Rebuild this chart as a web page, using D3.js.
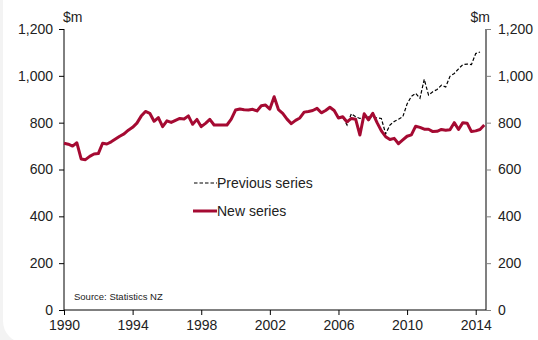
<!DOCTYPE html>
<html>
<head>
<meta charset="utf-8">
<script src="https://d3js.org/d3.v7.min.js"></script>
<style>
  body { margin: 0; background: #f3f3f3; }
  text { font-family: "Liberation Sans", Arial, sans-serif; }
</style>
</head>
<body>
<div id="chart"></div>
<script>

// quarterly data, first quarter 1990
var startYear = 1990;
var newSeries = [
  712, 708, 700, 714, 645, 642, 656, 666,
  668, 712, 709, 718, 730, 742, 752, 768,
  780, 798, 828, 848, 840, 806, 822, 783,
  808, 801, 810, 818, 816, 829, 793, 814,
  783, 797, 814, 790, 790, 790, 790, 815,
  854, 858, 855, 854, 857, 850, 872, 875,
  858, 911, 856, 840, 815, 796, 810, 820,
  845, 848, 852, 861, 842, 852, 866, 852,
  820, 825, 803, 818, 815, 747, 838, 812,
  840, 800, 765, 740, 728, 733, 710, 726,
  742, 748, 785, 780, 772, 772, 762, 763,
  771, 768, 770, 800, 771, 800, 798, 762,
  765, 771, 790
];

// previous series only shown where it splits off (from 2006 Q1)
var prevStart = 2006;
var prevSeries = [
  820, 825, 790, 838, 825, 818, 822, 825,
  825, 820, 818, 752, 790, 805, 815, 825,
  880, 912, 925, 904, 985, 918, 932, 942,
  960, 952, 998, 1010, 1030, 1048, 1050, 1048,
  1095, 1102
];

var yTicks = [0, 200, 400, 600, 800, 1000, 1200];
var xTicks = [1990, 1994, 1998, 2002, 2006, 2010, 2014];

var width = 538;
var height = 340;
var margin = {top: 29, right: 52, bottom: 30, left: 64};
var fontSize = "14px";

var svg = d3.select("#chart")
    .append("svg")
    .attr("width", width)
    .attr("height", height);

// white panel with rounded corner
svg.append("rect")
    .attr("x", 3)
    .attr("y", -30)
    .attr("width", 600)
    .attr("height", 373)
    .attr("rx", 22)
    .attr("fill", "#ffffff");

var x = d3.scaleLinear()
    .domain([1990, 2014.6])
    .range([margin.left, width - margin.right]);

var y = d3.scaleLinear()
    .domain([0, 1200])
    .range([height - margin.bottom, margin.top]);

var line = d3.line()
    .x(function(d) { return x(d.t); })
    .y(function(d) { return y(d.v); });

var newData = newSeries.map(function(v, i) { return {t: startYear + i / 4, v: v}; });
var prevData = prevSeries.map(function(v, i) { return {t: prevStart + i / 4, v: v}; });

// left axis
var leftAxis = svg.append("g")
    .attr("transform", "translate(" + margin.left + ",0)")
    .call(d3.axisLeft(y).tickValues(yTicks).tickSize(5).tickPadding(6).tickFormat(d3.format(",")));
leftAxis.selectAll("text").attr("font-size", fontSize).attr("fill", "#222");
leftAxis.selectAll("line, path").attr("stroke", "#000");
leftAxis.select(".domain").attr("d", "M0," + y(0) + "V" + y(1200));

// right axis (grey)
var rightAxis = svg.append("g")
    .attr("transform", "translate(" + (width - margin.right) + ",0)")
    .call(d3.axisRight(y).tickValues(yTicks).tickSize(5).tickPadding(7).tickFormat(d3.format(",")));
rightAxis.selectAll("text").attr("font-size", fontSize).attr("fill", "#222");
rightAxis.selectAll("line").attr("stroke", "#808080");
rightAxis.select(".domain")
    .attr("d", "M0," + y(0) + "V" + y(1200))
    .attr("stroke", "#808080")
    .attr("stroke-width", 2);

// bottom axis
var bottomAxis = svg.append("g")
    .attr("transform", "translate(0," + y(0) + ")")
    .call(d3.axisBottom(x).tickValues(xTicks).tickSize(5).tickPadding(5).tickFormat(d3.format("d")));
bottomAxis.selectAll("text").attr("font-size", fontSize).attr("fill", "#222");
bottomAxis.selectAll("line, path").attr("stroke", "#000");
bottomAxis.select(".domain").attr("d", "M" + x(1990) + ",0H" + x(2014.6));

// unit labels
svg.append("text")
    .attr("x", margin.left - 1)
    .attr("y", 22)
    .attr("font-size", fontSize)
    .attr("fill", "#222")
    .text("$m");
svg.append("text")
    .attr("x", width - margin.right + 4)
    .attr("y", 22)
    .attr("text-anchor", "end")
    .attr("font-size", fontSize)
    .attr("fill", "#222")
    .text("$m");

// lines
svg.append("path")
    .datum(prevData)
    .attr("d", line)
    .attr("fill", "none")
    .attr("stroke", "#000")
    .attr("stroke-width", 1.2)
    .attr("stroke-dasharray", "3.5,2");

svg.append("path")
    .datum(newData)
    .attr("d", line)
    .attr("fill", "none")
    .attr("stroke", "#a50a32")
    .attr("stroke-width", 3)
    .attr("stroke-linejoin", "round");

// legend
var legend = svg.append("g");
legend.append("line")
    .attr("x1", 194).attr("x2", 217)
    .attr("y1", 183).attr("y2", 183)
    .attr("stroke", "#000")
    .attr("stroke-width", 1.2)
    .attr("stroke-dasharray", "3.5,2");
legend.append("text")
    .attr("x", 217)
    .attr("y", 188)
    .attr("font-size", fontSize)
    .attr("fill", "#222")
    .text("Previous series");
legend.append("line")
    .attr("x1", 193).attr("x2", 217)
    .attr("y1", 211).attr("y2", 211)
    .attr("stroke", "#a50a32")
    .attr("stroke-width", 3);
legend.append("text")
    .attr("x", 217)
    .attr("y", 216)
    .attr("font-size", fontSize)
    .attr("fill", "#222")
    .text("New series");

// source note
svg.append("text")
    .attr("x", 74)
    .attr("y", 300)
    .attr("font-size", "9.5px")
    .attr("fill", "#222")
    .text("Source: Statistics NZ");

</script>
</body>
</html>
